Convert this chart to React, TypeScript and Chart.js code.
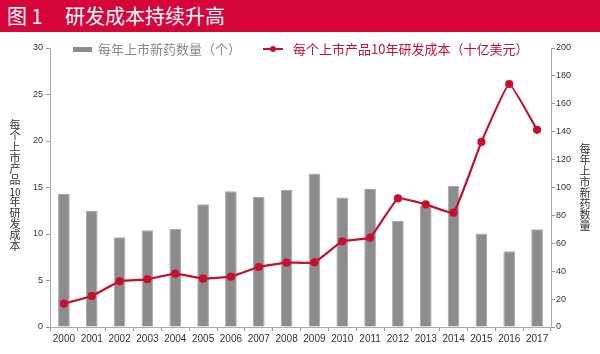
import React, { useEffect, useRef } from "react";
import { Chart, registerables } from "chart.js";

Chart.register(...registerables);

const years = ["2000", "2001", "2002", "2003", "2004", "2005", "2006", "2007", "2008", "2009", "2010", "2011", "2012", "2013", "2014", "2015", "2016", "2017"];
const newDrugs = [95.3, 83.1, 64.3, 69.3, 70.3, 88.0, 97.3, 93.2, 98.2, 110.0, 92.9, 98.9, 76.0, 87.0, 101.0, 67.1, 54.3, 70.0];
const rdCost = [2.51, 3.33, 4.91, 5.13, 5.73, 5.2, 5.41, 6.45, 6.92, 6.95, 9.21, 9.6, 13.83, 13.19, 12.29, 19.9, 26.13, 21.2];

const titleNo = "图 1";
const titleText = "研发成本持续升高";
const barLabel = "每年上市新药数量（个）";
const lineLabel = "每个上市产品10年研发成本（十亿美元）";
const leftTitleA = "每个上市产品";
const leftTitleNum = "10";
const leftTitleB = "年研发成本";
const rightTitle = "每年上市新药数量";

const RED = "#c8102e";
const GRAY = "#8c8c8c";
const CJK = '"Noto Sans CJK SC", "Noto Sans", sans-serif';
const NUM = '"Liberation Sans", Arial, sans-serif';

export default function App() {
  const ref = useRef<HTMLCanvasElement | null>(null);

  useEffect(() => {
    if (!ref.current) return;
    const chart = new Chart(ref.current, {
      type: "bar",
      data: {
        labels: years,
        datasets: [
          {
            type: "line",
            label: lineLabel,
            data: rdCost,
            yAxisID: "y",
            borderColor: RED,
            backgroundColor: RED,
            borderWidth: 2.2,
            pointRadius: 3,
            pointBackgroundColor: RED,
            pointBorderColor: RED,
            tension: 0.1,
            order: 0,
          } as any,
          {
            type: "bar",
            label: barLabel,
            data: newDrugs,
            yAxisID: "y1",
            backgroundColor: GRAY,
            borderColor: "#a6a6a6",
            borderWidth: 1,
            categoryPercentage: 1,
            barPercentage: 0.42,
            order: 1,
          },
        ],
      },
      options: {
        animation: false,
        responsive: false,
        maintainAspectRatio: false,
        layout: { padding: { top: 16, left: 0, right: 0, bottom: 0 } },
        plugins: { legend: { display: false }, title: { display: false }, tooltip: { enabled: false } },
        scales: {
          x: {
            grid: { display: true, drawOnChartArea: false, drawTicks: true, tickLength: 4, color: "#999", offset: true },
            border: { display: true, color: "#aaa" },
            ticks: { color: "#333", font: { family: NUM, size: 10 }, padding: 2, maxRotation: 0, autoSkip: false },
            afterFit: (s: any) => { s.height = 27; },
          },
          y: {
            position: "left",
            min: 0,
            max: 30,
            ticks: { stepSize: 5, color: "#333", font: { family: NUM, size: 9 }, padding: 3 },
            grid: { display: true, drawOnChartArea: false, drawTicks: true, tickLength: 4, color: "#999" },
            border: { display: true, color: "#aaa" },
            afterFit: (s: any) => { s.width = 50; },
          },
          y1: {
            position: "right",
            min: 0,
            max: 200,
            ticks: { stepSize: 20, color: "#333", font: { family: NUM, size: 9 }, padding: 1 },
            grid: { display: true, drawOnChartArea: false, drawTicks: true, tickLength: 4, color: "#999" },
            border: { display: true, color: "#aaa" },
            afterFit: (s: any) => { s.width = 49; },
          },
        },
      },
    });
    return () => chart.destroy();
  }, []);

  const vert: React.CSSProperties = {
    position: "absolute",
    writingMode: "vertical-rl",
    textOrientation: "upright",
    fontFamily: CJK,
    fontSize: 11,
    lineHeight: "12px",
    color: "#333",
    whiteSpace: "nowrap",
  };

  return (
    <div style={{ position: "absolute", left: 0, top: 0, width: 600, height: 354, background: "#fff", overflow: "hidden" }}>
      <div style={{ position: "absolute", left: 0, top: 0, width: 600, height: 32, background: "#d7063a" }}>
        <span style={{ position: "absolute", left: 7, top: 3, fontFamily: CJK, fontSize: 20, lineHeight: "26px", color: "#fff" }}>{titleNo}</span>
        <span style={{ position: "absolute", left: 65, top: 3, fontFamily: CJK, fontSize: 20, lineHeight: "26px", color: "#fff" }}>{titleText}</span>
      </div>
      <canvas ref={ref} width={600} height={322} style={{ position: "absolute", left: 0, top: 32, width: 600, height: 322 }} />
      <div style={{ position: "absolute", left: 73, top: 47, width: 19, height: 5, background: GRAY }} />
      <div style={{ position: "absolute", left: 98, top: 40, fontFamily: CJK, fontSize: 13, lineHeight: "18px", color: "#888", whiteSpace: "nowrap" }}>{barLabel}</div>
      <div style={{ position: "absolute", left: 263, top: 48, width: 20, height: 2, background: RED }} />
      <div style={{ position: "absolute", left: 270, top: 46, width: 6, height: 6, borderRadius: 3, background: RED }} />
      <div style={{ position: "absolute", left: 293, top: 40, fontFamily: CJK, fontSize: 13, lineHeight: "18px", color: RED, whiteSpace: "nowrap" }}>{lineLabel}</div>
      <div style={{ ...vert, left: 9, top: 119 }}>
        {leftTitleA}
        <span style={{ textCombineUpright: "all" } as any}>{leftTitleNum}</span>
        {leftTitleB}
      </div>
      <div style={{ ...vert, left: 579, top: 143 }}>{rightTitle}</div>
    </div>
  );
}
